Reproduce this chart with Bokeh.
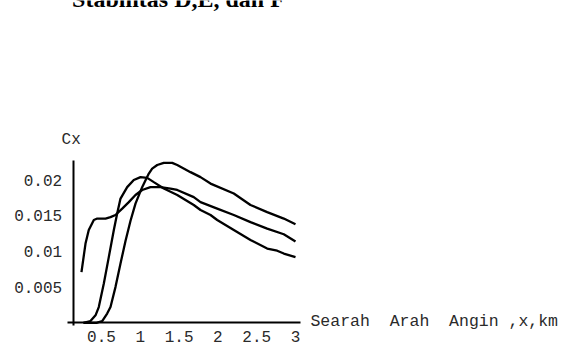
from bokeh.plotting import figure
from bokeh.models import Label
from bokeh.embed import file_html
from bokeh.resources import INLINE

# ---- text ----
title_text = "Stabilitas D,E, dan F"
y_label = "Cx"
x_label = "Searah \u00a0Arah \u00a0Angin ,x,km"

# ---- ticks ----
x_ticks = [0.5, 1, 1.5, 2, 2.5, 3]
x_tick_labels = ["0.5", "1", "1.5", "2", "2.5", "3"]
y_ticks = [0.005, 0.01, 0.015, 0.02]
y_tick_labels = ["0.005", "0.01", "0.015", "0.02"]

# ---- series ----
curve_a_x = [0.242, 0.294, 0.336, 0.401, 0.445, 0.552, 0.616, 0.680, 0.767, 0.852,
             0.938, 1.024, 1.131, 1.260, 1.389, 1.476, 1.689, 1.776, 1.991, 2.205,
             2.420, 2.635, 2.849, 3.0]
curve_a_y = [0.0071, 0.0111, 0.0130, 0.0144, 0.0146, 0.0146, 0.0148, 0.0151, 0.0160, 0.0169,
             0.0179, 0.0186, 0.0190, 0.0190, 0.0188, 0.0186, 0.0176, 0.0169, 0.0160, 0.0151,
             0.0141, 0.0132, 0.0124, 0.0114]

curve_b_x = [0.268, 0.358, 0.423, 0.465, 0.530, 0.594, 0.659, 0.702, 0.745, 0.831,
             0.916, 1.003, 1.089, 1.174, 1.303, 1.476, 1.689, 1.776, 1.905, 1.991,
             2.205, 2.420, 2.635, 2.764, 2.849, 3.0]
curve_b_y = [0.0, 0.00025, 0.00105, 0.0022, 0.0055, 0.0092, 0.0130, 0.0153, 0.0174, 0.0190,
             0.0200, 0.0204, 0.0203, 0.0197, 0.0188, 0.0179, 0.0165, 0.0158, 0.0151, 0.0144,
             0.0130, 0.0116, 0.0104, 0.0101, 0.0097, 0.0092]

curve_c_x = [0.268, 0.436, 0.509, 0.573, 0.616, 0.680, 0.745, 0.810, 0.874, 0.938,
             1.024, 1.110, 1.153, 1.218, 1.303, 1.411, 1.476, 1.647, 1.776, 1.905,
             2.205, 2.420, 2.635, 2.849, 3.0]
curve_c_y = [0.0, 0.0, 0.00025, 0.0013, 0.0022, 0.0050, 0.0083, 0.0115, 0.0143, 0.0167,
             0.0190, 0.0209, 0.0216, 0.0221, 0.0224, 0.0224, 0.0221, 0.0211, 0.0204, 0.0195,
             0.0181, 0.0165, 0.0155, 0.0146, 0.0138]

# ---- axes geometry (value space, Mathematica-style crossing axes) ----
X_VIEW = (-0.8015, 6.5825)
Y_VIEW = (-0.00556, 0.04514)
AXIS_ORIGIN_X = 0.135
X_AXIS_BOUNDS = (0.058, 3.064)
Y_AXIS_BOUNDS = (-0.0004, 0.02276)
TITLE_POS = (1.492, 0.04346)

MONO = "Liberation Mono"
TXT = "#2a2a2a"

p = figure(width=573, height=362, x_range=X_VIEW, y_range=Y_VIEW,
           output_backend="svg", toolbar_location=None,
           min_border_left=0, min_border_right=0, min_border_top=0, min_border_bottom=0)
p.outline_line_color = None
p.background_fill_color = "white"
p.border_fill_color = "white"
p.xgrid.visible = False
p.ygrid.visible = False

for xs, ys in [(curve_a_x, curve_a_y), (curve_b_x, curve_b_y), (curve_c_x, curve_c_y)]:
    p.line(xs, ys, line_color="black", line_width=2.3)

# x axis, crossing at y = 0
xa = p.xaxis[0]
xa.fixed_location = 0
xa.bounds = X_AXIS_BOUNDS
xa.ticker = x_ticks
xa.major_label_overrides = {t: l for t, l in zip(x_ticks, x_tick_labels)}
xa.axis_line_width = 2
xa.axis_line_color = "black"
xa.major_tick_line_color = None
xa.minor_tick_line_color = None
xa.major_tick_out = 0
xa.major_tick_in = 0
xa.major_label_standoff = 8
xa.major_label_text_font = MONO
xa.major_label_text_font_size = "16px"
xa.major_label_text_color = TXT

# y axis, crossing at x = AXIS_ORIGIN_X
ya = p.yaxis[0]
ya.fixed_location = AXIS_ORIGIN_X
ya.bounds = Y_AXIS_BOUNDS
ya.ticker = y_ticks
ya.major_label_overrides = {t: l for t, l in zip(y_ticks, y_tick_labels)}
ya.axis_line_width = 2
ya.axis_line_color = "black"
ya.major_tick_line_color = None
ya.minor_tick_line_color = None
ya.major_tick_out = 0
ya.major_tick_in = 0
ya.major_label_standoff = 11
ya.major_label_text_font = MONO
ya.major_label_text_font_size = "16px"
ya.major_label_text_color = TXT

p.add_layout(Label(x=AXIS_ORIGIN_X, y=Y_AXIS_BOUNDS[1], x_offset=-2, y_offset=20, text=y_label,
                   text_align="center", text_baseline="middle", text_font=MONO,
                   text_font_size="16px", text_color=TXT))
p.add_layout(Label(x=X_AXIS_BOUNDS[1], y=0, x_offset=10, y_offset=1, text=x_label,
                   text_align="left", text_baseline="middle", text_font=MONO,
                   text_font_size="16.5px", text_color=TXT))
p.add_layout(Label(x=TITLE_POS[0], y=TITLE_POS[1], y_offset=13, text=title_text,
                   text_align="center", text_baseline="alphabetic", text_font="Liberation Serif",
                   text_font_style="bold", text_font_size="24px", text_color="black"))

open("out.html", "w").write(file_html(p, INLINE))
